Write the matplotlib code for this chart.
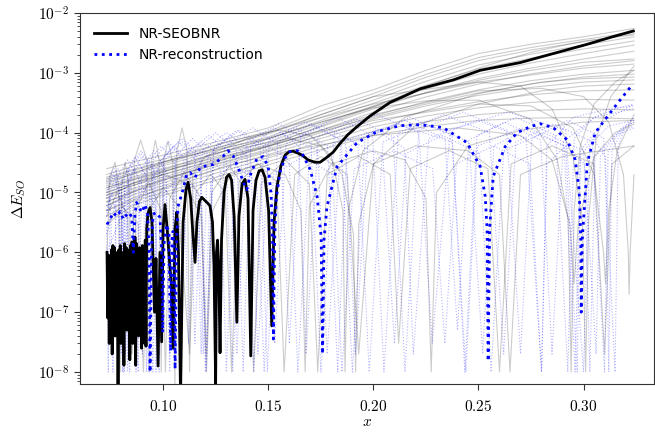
import numpy as np
import matplotlib
matplotlib.use("Agg")
import matplotlib.pyplot as plt
from matplotlib.ticker import FuncFormatter, LogLocator, FixedLocator, NullFormatter

plt.rcParams['mathtext.fontset'] = 'cm'
plt.rcParams['font.family'] = ['DejaVu Sans']

# ---------------- main curves ----------------
seob_x = [0.0732, 0.07355, 0.0739, 0.07425, 0.0746, 0.07495, 0.0753, 0.07565, 0.0760, 0.07635,
          0.0767, 0.07705, 0.0774, 0.07775, 0.0781, 0.07845, 0.0788, 0.07915, 0.0795, 0.07985,
          0.0802, 0.08055, 0.0809, 0.08125, 0.0816, 0.08195, 0.0823, 0.08265, 0.0830, 0.08335,
          0.0837, 0.08405, 0.0844, 0.08475, 0.0851, 0.08545, 0.0858, 0.08615, 0.0865, 0.08685,
          0.0872, 0.08755, 0.0879, 0.08825, 0.0886, 0.08895, 0.0893, 0.08965, 0.0900, 0.09035,
          0.0907, 0.09105, 0.0914, 0.09175, 0.0921, 0.0927, 0.0937,
          0.0946, 0.0958, 0.0965, 0.0975, 0.0984, 0.0992, 0.0999, 0.1008, 0.1018, 0.1037,
          0.1046, 0.1056, 0.1064, 0.1072, 0.1082, 0.1094, 0.1108, 0.1118, 0.1130, 0.1141,
          0.1151, 0.1160, 0.1172, 0.1183, 0.1194, 0.1208, 0.1222, 0.1234, 0.1241, 0.1249,
          0.1253, 0.1258, 0.1263, 0.1270, 0.1277, 0.1289, 0.1301, 0.1313, 0.1325, 0.1337,
          0.1350, 0.1360, 0.1375, 0.1389, 0.1403, 0.1416, 0.1427, 0.1441, 0.1456, 0.1470,
          0.1484, 0.1501, 0.1516, 0.1527, 0.1541, 0.1560, 0.1579, 0.1599, 0.1618, 0.1637,
          0.1661, 0.1689, 0.1722, 0.1746, 0.1775, 0.1808, 0.1841, 0.1879, 0.1922, 0.1984,
          0.2079, 0.2141, 0.2222, 0.2380, 0.2508, 0.2698, 0.2856, 0.3018, 0.3127, 0.3237]
seob_y = [1.0e-6, 8e-8, 9e-7, 3e-8, 7e-7, 2e-7, 1.1e-6, 2e-8, 1.3e-6, 6e-8,
          1.2e-6, 4e-8, 9e-7, 1.5e-7, 1.0e-6, 5e-9, 1.1e-6, 8e-8, 1.3e-6, 3e-8,
          9e-7, 1e-7, 1.0e-6, 1.3e-8, 1.4e-6, 1.2e-7, 1.2e-6, 5e-8, 1.0e-6, 2e-7,
          1.1e-6, 1.6e-8, 1.3e-6, 6e-8, 1.5e-6, 3e-8, 1.2e-6, 1.5e-7, 1.8e-6, 1.3e-8,
          1.4e-6, 9e-8, 9e-7, 4e-8, 1.2e-6, 1e-7, 1.1e-6, 2.5e-8, 1.3e-6, 7e-8,
          1.2e-6, 3e-8, 1.6e-6, 2.7e-8, 2.5e-6, 4.5e-6, 5.6e-6,
          3.2e-6, 1.0e-7, 7.9e-7, 1.26e-8, 1.0e-6, 3.2e-8, 2.5e-6, 6.3e-6, 2.5e-6, 3.2e-7,
          2.5e-8, 2.5e-6, 4.7e-6, 1.0e-6, 4.0e-9, 3.2e-6, 1.12e-5, 1.48e-5, 7.9e-6, 2.0e-6,
          6.8e-7, 3.2e-6, 7.1e-6, 8.3e-6, 7.6e-6, 6.8e-6, 6.0e-6, 3.2e-6, 6.3e-7, 6.3e-9,
          1.0e-6, 1.6e-6, 6.3e-7, 2.1e-8, 1.6e-6, 1.0e-5, 1.8e-5, 2.0e-5, 1.6e-5, 4.0e-6,
          6.8e-8, 4.0e-6, 1.4e-5, 1.66e-5, 7.9e-6, 1.86e-8, 5.0e-6, 1.6e-5, 2.3e-5, 2.4e-5,
          1.8e-5, 5.0e-6, 5.9e-8, 3.2e-6, 1.26e-5, 2.8e-5, 4.2e-5, 4.8e-5, 4.9e-5, 4.6e-5,
          4.2e-5, 3.5e-5, 3.2e-5, 3.2e-5, 3.8e-5, 4.7e-5, 6.6e-5, 9.3e-5, 1.26e-4, 1.9e-4,
          3.2e-4, 4.0e-4, 5.4e-4, 7.6e-4, 1.1e-3, 1.48e-3, 2.1e-3, 3.0e-3, 3.9e-3, 5.0e-3]

recon_x = [0.0732, 0.0738, 0.0746, 0.0762, 0.0778, 0.0794, 0.0810, 0.0833, 0.0850, 0.0857,
           0.0865, 0.0873, 0.0897, 0.0913, 0.0925, 0.0932, 0.0937, 0.0944, 0.0951, 0.0965,
           0.0984, 0.0992, 0.0997, 0.1003, 0.1016, 0.1027, 0.1035, 0.1041, 0.1046, 0.1051,
           0.1056, 0.1063, 0.1070, 0.1094, 0.1111, 0.1127, 0.1151, 0.1175, 0.1208, 0.1237,
           0.1280, 0.1308, 0.1332, 0.1356, 0.1380, 0.1397, 0.1413, 0.1446, 0.1475, 0.1499,
           0.1513, 0.1520, 0.1524, 0.1530, 0.1537, 0.1556, 0.1580, 0.1603, 0.1637, 0.1661,
           0.1699, 0.1732, 0.1751, 0.1758, 0.1765, 0.1779, 0.1827, 0.1922, 0.2017, 0.2126,
           0.2222, 0.2332, 0.2446, 0.2508, 0.2532, 0.2541, 0.2546, 0.2553, 0.2570, 0.2627,
           0.2684, 0.2746, 0.2794, 0.2856, 0.2922, 0.2960, 0.2979, 0.2987, 0.2989, 0.2994,
           0.3018, 0.3056, 0.3113, 0.3175, 0.3232]
recon_y = [2.93e-6, 3.16e-6, 3.55e-6, 4.64e-6, 3.98e-6, 4.82e-6, 3.55e-6, 4.64e-6, 3.98e-6, 1.0e-6,
           4.3e-6, 6.8e-6, 4.64e-6, 6.3e-6, 4.3e-6, 1.12e-6, 1.0e-8, 1.12e-6, 4.3e-6, 4.64e-6,
           3.83e-6, 1.12e-6, 4.6e-8, 1.36e-6, 2.93e-6, 2.0e-6, 2.24e-8, 1.65e-6, 2.24e-6, 1.36e-6,
           1.12e-8, 1.65e-6, 5.85e-6, 1.12e-5, 2.0e-5, 2.15e-5, 1.78e-5, 2.61e-5, 2.82e-5, 2.93e-5,
           3.83e-5, 5.0e-5, 4.14e-5, 2.61e-5, 1.52e-5, 1.12e-5, 1.92e-5, 3.69e-5, 3.98e-5, 2.71e-5,
           9.3e-6, 1.65e-6, 3.55e-8, 1.65e-6, 7.6e-6, 2.24e-5, 3.83e-5, 4.82e-5, 5.0e-5, 4.47e-5,
           2.42e-5, 8.6e-6, 1.85e-6, 2.0e-8, 1.65e-6, 5.85e-6, 2.71e-5, 6.8e-5, 1.04e-4, 1.31e-4,
           1.36e-4, 1.21e-4, 6.8e-5, 2.71e-5, 8.6e-6, 2.42e-6, 1.52e-8, 2.42e-6, 1.85e-5, 5.85e-5,
           1.0e-4, 1.26e-4, 1.41e-4, 1.21e-4, 7.6e-5, 3.55e-5, 1.12e-5, 1.65e-6, 1.0e-7, 1.65e-6,
           3.16e-5, 1.0e-4, 1.85e-4, 3.55e-4, 6.3e-4]

# ---------------- background: smooth grey fan ----------------
fan_x = [0.073, 0.085, 0.100, 0.125, 0.150, 0.175, 0.200, 0.225, 0.250, 0.275, 0.300, 0.324]
fan_grey = [
    [2.5e-5, 3.2e-5, 4.2e-5, 7.0e-5, 1.2e-4, 2.8e-4, 5.2e-4, 1.1e-3, 2.1e-3, 3.0e-3, 4.0e-3, 5.5e-3],
    [2.0e-5, 2.7e-5, 3.6e-5, 6.2e-5, 1.05e-4, 2.3e-4, 4.5e-4, 9.4e-4, 1.8e-3, 2.65e-3, 3.6e-3, 4.8e-3],
    [1.7e-5, 2.3e-5, 3.2e-5, 5.5e-5, 9.5e-5, 2.0e-4, 4.0e-4, 8.4e-4, 1.6e-3, 2.4e-3, 3.3e-3, 4.5e-3],
    [1.5e-5, 2.0e-5, 2.8e-5, 5.0e-5, 8.5e-5, 1.8e-4, 3.5e-4, 7.2e-4, 1.35e-3, 2.05e-3, 2.9e-3, 4.0e-3],
    [1.3e-5, 1.8e-5, 2.5e-5, 4.5e-5, 7.8e-5, 1.6e-4, 3.1e-4, 6.2e-4, 1.15e-3, 1.76e-3, 2.5e-3, 3.4e-3],
    [1.1e-5, 1.6e-5, 2.2e-5, 4.0e-5, 7.0e-5, 1.4e-4, 2.8e-4, 5.4e-4, 9.5e-4, 1.46e-3, 2.1e-3, 2.9e-3],
    [1.0e-5, 1.4e-5, 2.0e-5, 3.6e-5, 6.4e-5, 1.25e-4, 2.5e-4, 4.7e-4, 8.0e-4, 1.2e-3, 1.7e-3, 2.3e-3],
    [9.0e-6, 1.3e-5, 1.8e-5, 3.3e-5, 5.8e-5, 1.1e-4, 2.2e-4, 3.95e-4, 6.5e-4, 9.6e-4, 1.3e-3, 1.6e-3],
    [8.0e-6, 1.15e-5, 1.6e-5, 3.0e-5, 5.3e-5, 1.0e-4, 1.9e-4, 3.3e-4, 5.2e-4, 7.4e-4, 9.5e-4, 1.1e-3],
    [7.0e-6, 1.0e-5, 1.45e-5, 2.7e-5, 4.8e-5, 9.0e-5, 1.7e-4, 2.8e-4, 4.2e-4, 5.7e-4, 7.0e-4, 7.6e-4],
    [6.0e-6, 9.0e-6, 1.3e-5, 2.4e-5, 4.3e-5, 8.0e-5, 1.45e-4, 2.3e-4, 3.3e-4, 4.3e-4, 5.0e-4, 5.2e-4],
    [5.0e-6, 8.0e-6, 1.15e-5, 2.1e-5, 3.8e-5, 7.0e-5, 1.25e-4, 1.9e-4, 2.6e-4, 3.2e-4, 3.6e-4, 3.5e-4],
    [4.0e-6, 7.0e-6, 1.0e-5, 1.8e-5, 3.3e-5, 6.0e-5, 1.05e-4, 1.52e-4, 2.0e-4, 2.35e-4, 2.5e-4, 2.4e-4],
    [3.0e-6, 6.0e-6, 9.0e-6, 1.6e-5, 2.9e-5, 5.2e-5, 9.0e-5, 1.26e-4, 1.6e-4, 1.75e-4, 1.8e-4, 1.7e-4],
    [6.0e-6, 1.0e-5, 1.6e-5, 3.2e-5, 6.0e-5, 1.3e-4, 2.7e-4, 6.0e-4, 1.2e-3, 2.2e-3, 3.4e-3, 4.3e-3],
    [1.8e-5, 2.4e-5, 3.3e-5, 5.2e-5, 8.0e-5, 1.5e-4, 2.7e-4, 4.6e-4, 7.5e-4, 1.1e-3, 1.5e-3, 1.7e-3],
    [1.2e-5, 1.6e-5, 2.3e-5, 3.8e-5, 6.0e-5, 1.05e-4, 1.8e-4, 3.0e-4, 4.6e-4, 6.5e-4, 8.5e-4, 9.5e-4],
]

# ---------------- background: oscillating grey curves ----------------
osc_grey = [
    [(0.0732, 1e-6), (0.0745, 1.8e-5), (0.0770, 3.2e-5), (0.0788, 1.2e-5), (0.0795, 1e-8),
     (0.0802, 1.2e-5), (0.0818, 3.2e-5), (0.0838, 1.2e-5), (0.0850, 2e-8), (0.0862, 3.5e-5),
     (0.0892, 7.5e-5), (0.0922, 3.5e-5), (0.0935, 1e-8), (0.0945, 3.5e-5), (0.0962, 7.5e-5),
     (0.0980, 3.5e-5), (0.0990, 1e-8), (0.1000, 3.2e-5), (0.1022, 7.2e-5), (0.1045, 3.2e-5),
     (0.1055, 5e-9), (0.1065, 5e-5), (0.1089, 1.2e-4), (0.1113, 5e-5), (0.1125, 1e-8),
     (0.1140, 2e-5), (0.1200, 4e-5), (0.1400, 8e-5), (0.1700, 1.6e-4), (0.2000, 3e-4),
     (0.2500, 7e-4), (0.3000, 1.2e-3), (0.3240, 1.4e-3)],
    [(0.073, 1.2e-5), (0.085, 1.7e-5), (0.100, 2.4e-5), (0.125, 4.5e-5), (0.150, 8e-5),
     (0.175, 1.5e-4), (0.200, 2.6e-4), (0.225, 3.4e-4), (0.250, 3.5e-4), (0.2746, 1.7e-4),
     (0.2875, 3.5e-5), (0.2927, 3.5e-6), (0.2941, 1e-8), (0.2955, 5e-6), (0.2985, 6e-5),
     (0.305, 3e-4), (0.315, 7e-4), (0.324, 1.1e-3)],
    [(0.073, 1.6e-5), (0.100, 3e-5), (0.150, 1e-4), (0.200, 4e-4), (0.250, 7e-4),
     (0.270, 6e-4), (0.285, 2.5e-4), (0.295, 4e-5), (0.2995, 3e-6), (0.301, 1e-8),
     (0.3025, 4e-6), (0.306, 8e-5), (0.313, 4e-4), (0.324, 1.3e-3)],
    [(0.073, 9e-6), (0.100, 2e-5), (0.150, 6e-5), (0.200, 2e-4), (0.250, 5e-4),
     (0.280, 5.5e-4), (0.300, 4e-4), (0.312, 1.5e-4), (0.319, 2e-5), (0.3213, 1e-6),
     (0.3217, 2e-7), (0.3222, 1e-6), (0.324, 2e-5)],
    [(0.073, 7e-6), (0.100, 1.7e-5), (0.150, 5e-5), (0.200, 1.6e-4), (0.250, 3e-4),
     (0.275, 2.8e-4), (0.295, 1.2e-4), (0.305, 2e-5), (0.3095, 1e-6), (0.3105, 3e-7),
     (0.312, 5e-6), (0.316, 5e-5), (0.324, 2e-4)],
    [(0.073, 5e-6), (0.100, 1.2e-5), (0.130, 2.8e-5), (0.160, 5e-5), (0.200, 9e-5),
     (0.240, 1.2e-4), (0.270, 9e-5), (0.285, 3.5e-5), (0.2935, 3e-6), (0.2955, 3e-7),
     (0.2975, 3e-6), (0.305, 4e-5), (0.315, 1e-4), (0.324, 1.4e-4)],
    [(0.073, 3e-6), (0.080, 6e-6), (0.088, 3e-6), (0.0905, 1e-8), (0.093, 5e-6),
     (0.100, 1.2e-5), (0.107, 6e-6), (0.1125, 2e-8), (0.1155, 1e-5), (0.1225, 2e-5),
     (0.1295, 1e-5), (0.1325, 1e-8), (0.136, 1.5e-5), (0.145, 3e-5), (0.154, 1.5e-5),
     (0.1575, 1e-8), (0.1625, 2e-5), (0.175, 4e-5), (0.1875, 2e-5), (0.193, 2e-8),
     (0.200, 3e-5), (0.220, 6e-5), (0.245, 5e-5), (0.260, 2e-5), (0.265, 1e-8),
     (0.270, 2e-5), (0.290, 4e-5), (0.324, 6e-5)],
    [(0.073, 8e-6), (0.085, 1.4e-5), (0.100, 2e-5), (0.110, 1.5e-5), (0.118, 4e-6),
     (0.1205, 1e-8), (0.1235, 5e-6), (0.132, 2e-5), (0.145, 3e-5), (0.158, 2e-5),
     (0.1655, 5e-6), (0.1675, 1e-8), (0.1695, 6e-6), (0.180, 3e-5), (0.200, 5e-5),
     (0.215, 3.5e-5), (0.225, 8e-6), (0.2275, 1e-8), (0.230, 1e-5), (0.245, 6e-5),
     (0.270, 1.1e-4), (0.300, 1.5e-4), (0.324, 1.6e-4)],
    [(0.073, 4e-6), (0.078, 1e-5), (0.083, 4e-6), (0.085, 2e-8), (0.087, 5e-6),
     (0.093, 1.5e-5), (0.099, 5e-6), (0.101, 1e-8), (0.103, 8e-6), (0.110, 2.2e-5),
     (0.118, 8e-6), (0.1205, 2e-8), (0.123, 1e-5), (0.1315, 2.8e-5), (0.140, 1e-5),
     (0.143, 1e-8), (0.1465, 1.4e-5), (0.158, 3.5e-5), (0.1695, 1.4e-5), (0.1735, 1e-8),
     (0.178, 2e-5), (0.193, 4e-5), (0.208, 2e-5), (0.212, 3e-8), (0.2175, 2.5e-5),
     (0.236, 5e-5), (0.2545, 2.5e-5), (0.260, 1e-8), (0.2655, 3e-5), (0.285, 6e-5),
     (0.305, 3e-5), (0.310, 2e-8), (0.3135, 3e-5), (0.324, 6e-5)],
    [(0.073, 1e-5), (0.100, 2.2e-5), (0.130, 5e-5), (0.160, 8e-5), (0.175, 6e-5),
     (0.185, 2e-5), (0.1905, 2e-6), (0.1915, 1e-8), (0.193, 3e-6), (0.200, 3e-5),
     (0.220, 1.3e-4), (0.250, 3e-4), (0.280, 5e-4), (0.300, 6e-4), (0.324, 6.5e-4)],
    [(0.073, 1.4e-5), (0.100, 3.2e-5), (0.130, 7e-5), (0.155, 1.1e-4), (0.170, 9e-5),
     (0.180, 4e-5), (0.1855, 5e-6), (0.1865, 1e-8), (0.188, 5e-6), (0.195, 5e-5),
     (0.215, 1.8e-4), (0.250, 4.5e-4), (0.280, 7e-4), (0.300, 8e-4), (0.324, 8.5e-4)],
]

# ---------------- background: faint blue dotted reconstructions ----------------
osc_blue = [
    [(0.073, 5e-6), (0.0775, 1.5e-5), (0.0805, 7e-6), (0.082, 2e-8),
     (0.0836, 1.5e-5), (0.0885, 3e-5), (0.0934, 1.5e-5), (0.095, 1e-8),
     (0.0974, 3e-5), (0.105, 6e-5), (0.1126, 3e-5), (0.115, 3e-8),
     (0.1186, 5e-5), (0.130, 1e-4), (0.1414, 5e-5), (0.145, 2e-8),
     (0.1504, 7.5e-5), (0.1675, 1.5e-4), (0.1846, 7.5e-5), (0.190, 1e-8),
     (0.196, 8e-5), (0.215, 1.6e-4), (0.234, 8e-5), (0.240, 5e-8),
     (0.2454, 7.5e-5), (0.2625, 1.5e-4), (0.2796, 7.5e-5), (0.285, 2e-8),
     (0.2904, 7e-5), (0.305, 1.8e-4), (0.324, 2.5e-4)],
    [(0.073, 6e-6), (0.0755, 1e-5), (0.0772, 5e-6), (0.078, 3e-8),
     (0.0792, 1.2e-5), (0.083, 2.5e-5), (0.0868, 1.2e-5), (0.088, 1e-8),
     (0.0898, 2.5e-5), (0.0955, 5e-5), (0.1012, 2.5e-5), (0.103, 2e-8),
     (0.1056, 4e-5), (0.114, 8e-5), (0.1224, 4e-5), (0.125, 1e-8),
     (0.1292, 6e-5), (0.1425, 1.2e-4), (0.1558, 6e-5), (0.160, 3e-8),
     (0.1654, 9e-5), (0.1825, 1.8e-4), (0.1996, 9e-5), (0.205, 1e-8),
     (0.2118, 1e-4), (0.2335, 2e-4), (0.2552, 1e-4), (0.262, 2e-8),
     (0.2678, 7e-5), (0.286, 1.4e-4), (0.3042, 7e-5), (0.310, 1e-8),
     (0.3117, 5e-5), (0.318, 1.2e-4), (0.324, 1.5e-4)],
    [(0.073, 4e-6), (0.0745, 8e-6), (0.0752, 3e-6), (0.076, 1e-8),
     (0.0777, 1.7e-5), (0.083, 3.5e-5), (0.0883, 1.7e-5), (0.090, 2e-8),
     (0.0922, 3e-5), (0.099, 6e-5), (0.1058, 3e-5), (0.108, 1e-8),
     (0.1112, 4.5e-5), (0.1215, 9e-5), (0.1318, 4.5e-5), (0.135, 2e-8),
     (0.1398, 7e-5), (0.155, 1.4e-4), (0.1702, 7e-5), (0.175, 1e-8),
     (0.1814, 1e-4), (0.2015, 2e-4), (0.2216, 1e-4), (0.228, 3e-8),
     (0.2366, 1.1e-4), (0.264, 2.2e-4), (0.2914, 1.1e-4), (0.300, 1e-8),
     (0.303, 6e-5), (0.312, 1.3e-4), (0.324, 1.6e-4)],
    [(0.073, 1e-5), (0.0765, 2e-5), (0.0788, 1e-5), (0.080, 2e-8),
     (0.0816, 2e-5), (0.0865, 4e-5), (0.0914, 2e-5), (0.093, 1e-8),
     (0.0953, 3.5e-5), (0.1025, 7e-5), (0.1097, 3.5e-5), (0.112, 3e-8),
     (0.1151, 5e-5), (0.125, 1e-4), (0.1349, 5e-5), (0.138, 1e-8),
     (0.1416, 6e-5), (0.153, 1.2e-4), (0.1644, 6e-5), (0.168, 2e-8),
     (0.1736, 8.5e-5), (0.1915, 1.7e-4), (0.2094, 8.5e-5), (0.215, 1e-8),
     (0.2216, 1.1e-4), (0.2425, 2.2e-4), (0.2634, 1.1e-4), (0.270, 2e-8),
     (0.2754, 8e-5), (0.2925, 1.6e-4), (0.3096, 8e-5), (0.315, 1e-8),
     (0.3165, 6e-5), (0.320, 1.3e-4), (0.324, 1.8e-4)],
    [(0.073, 3e-6), (0.0738, 1e-8),
     (0.0747, 1e-5), (0.0774, 2e-5), (0.0801, 1e-5), (0.081, 1e-8),
     (0.083, 2.2e-5), (0.0895, 4.5e-5), (0.096, 2.2e-5), (0.098, 2e-8),
     (0.1006, 3.5e-5), (0.109, 7e-5), (0.1174, 3.5e-5), (0.120, 1e-8),
     (0.124, 5.5e-5), (0.1365, 1.1e-4), (0.149, 5.5e-5), (0.153, 3e-8),
     (0.1584, 6.5e-5), (0.1755, 1.3e-4), (0.1926, 6.5e-5), (0.198, 1e-8),
     (0.2045, 7e-5), (0.225, 1.4e-4), (0.2455, 7e-5), (0.252, 2e-8),
     (0.2573, 6e-5), (0.274, 1.2e-4), (0.2907, 6e-5), (0.296, 1e-8),
     (0.2985, 5e-5), (0.310, 1.6e-4), (0.324, 3e-4)],
    [(0.073, 2e-6), (0.077, 6e-6), (0.0795, 3e-6), (0.0805, 1e-8),
     (0.0818, 1.2e-5), (0.0862, 2.5e-5), (0.0906, 1.2e-5), (0.092, 1e-8),
     (0.0937, 1.5e-5), (0.099, 3e-5), (0.1043, 1.5e-5), (0.106, 2e-8),
     (0.1089, 2.5e-5), (0.118, 5e-5), (0.1271, 2.5e-5), (0.130, 1e-8),
     (0.1341, 3.5e-5), (0.147, 7e-5), (0.1599, 3.5e-5), (0.164, 1e-8),
     (0.1695, 4e-5), (0.187, 8e-5), (0.2045, 4e-5), (0.210, 3e-8),
     (0.2155, 4.5e-5), (0.233, 9e-5), (0.2505, 4.5e-5), (0.256, 1e-8),
     (0.262, 5e-5), (0.281, 1e-4), (0.300, 5e-5), (0.306, 2e-8),
     (0.308, 4e-5), (0.316, 1e-4), (0.324, 1.3e-4)],
    [(0.073, 8e-6), (0.0755, 2e-5), (0.0785, 2.5e-5), (0.0815, 1.2e-5), (0.083, 1e-8),
     (0.0846, 2e-5), (0.08975, 4e-5), (0.0949, 2e-5), (0.0965, 1e-8),
     (0.0991, 3.5e-5), (0.10725, 7e-5), (0.1154, 3.5e-5), (0.118, 2e-8),
     (0.121, 4e-5), (0.1305, 8e-5), (0.140, 4e-5), (0.143, 1e-8),
     (0.1478, 6e-5), (0.163, 1.2e-4), (0.1782, 6e-5), (0.183, 1e-8),
     (0.1873, 5.5e-5), (0.201, 1.1e-4), (0.2147, 5.5e-5), (0.219, 2e-8),
     (0.2263, 8e-5), (0.2495, 1.6e-4), (0.2727, 8e-5), (0.280, 1e-8),
     (0.2825, 6e-5), (0.295, 1.8e-4), (0.310, 2.4e-4), (0.324, 2.8e-4)],
    [(0.073, 5e-6), (0.085, 1.2e-5), (0.087, 1e-8),
     (0.0885, 1.5e-5), (0.095, 3e-5), (0.1015, 1.5e-5), (0.103, 1e-8),
     (0.106, 3.5e-5), (0.118, 7e-5), (0.130, 3.5e-5), (0.133, 1e-8),
     (0.1375, 5e-5), (0.1555, 1e-4), (0.1735, 5e-5), (0.178, 2e-8),
     (0.1845, 7e-5), (0.211, 1.4e-4), (0.2375, 7e-5), (0.244, 1e-8),
     (0.2495, 6e-5), (0.2705, 1.2e-4), (0.2915, 6e-5), (0.297, 1e-8),
     (0.2985, 4e-5), (0.3045, 8e-5), (0.3105, 4e-5), (0.312, 1e-8),
     (0.3135, 5e-5), (0.319, 1.2e-4), (0.324, 1.5e-4)],
    [(0.073, 1e-6), (0.080, 4e-6), (0.084, 1e-8),
     (0.086, 6e-6), (0.091, 1.2e-5), (0.096, 6e-6), (0.098, 1e-8),
     (0.1005, 1e-5), (0.1085, 2e-5), (0.1165, 1e-5), (0.119, 2e-8),
     (0.1226, 1.5e-5), (0.1335, 3e-5), (0.1444, 1.5e-5), (0.148, 1e-8),
     (0.1524, 2e-5), (0.1665, 4e-5), (0.1806, 2e-5), (0.185, 1e-8),
     (0.1908, 2.5e-5), (0.2095, 5e-5), (0.2282, 2.5e-5), (0.234, 3e-8),
     (0.2395, 3e-5), (0.257, 6e-5), (0.2745, 3e-5), (0.280, 1e-8),
     (0.2826, 3e-5), (0.2915, 6e-5), (0.3004, 3e-5), (0.303, 1e-8),
     (0.3055, 4e-5), (0.315, 9e-5), (0.324, 1.2e-4)],
    [(0.073, 1.5e-5), (0.0765, 2.5e-5), (0.080, 1.5e-5), (0.0815, 1e-8),
     (0.0834, 2.5e-5), (0.0895, 5e-5), (0.0956, 2.5e-5), (0.0975, 2e-8),
     (0.1002, 4e-5), (0.109, 8e-5), (0.1178, 4e-5), (0.1205, 1e-8),
     (0.1239, 5.5e-5), (0.135, 1.1e-4), (0.1461, 5.5e-5), (0.1495, 1e-8),
     (0.1544, 7e-5), (0.1705, 1.4e-4), (0.1866, 7e-5), (0.1915, 2e-8),
     (0.1976, 9e-5), (0.2175, 1.8e-4), (0.2374, 9e-5), (0.2435, 1e-8),
     (0.2493, 9e-5), (0.268, 1.8e-4), (0.2867, 9e-5), (0.2925, 1e-8),
     (0.2955, 8e-5), (0.305, 1.8e-4), (0.315, 2.5e-4), (0.324, 3e-4)],
]

y_decades = [1e-8, 1e-7, 1e-6, 1e-5, 1e-4, 1e-3, 1e-2]
x_ticks = [0.10, 0.15, 0.20, 0.25, 0.30]

# ---------------- plotting ----------------
fig = plt.figure(figsize=(6.55, 4.32), dpi=100)
ax = fig.add_axes([0.122, 0.111, 0.877, 0.859])

for ys in fan_grey:
    ax.plot(fan_x, ys, color='k', alpha=0.2, lw=0.8, zorder=1)
for pts in osc_grey:
    xs, ys = zip(*pts)
    ax.plot(xs, ys, color='k', alpha=0.2, lw=0.8, zorder=1)
for pts in osc_blue:
    xs, ys = zip(*pts)
    ax.plot(xs, ys, color='b', alpha=0.3, lw=0.8, ls=':', zorder=1)

ax.plot(seob_x, seob_y, color='k', lw=2.0, label='NR-SEOBNR', zorder=3)
ax.plot(recon_x, recon_y, color='b', lw=2.0, ls=':', label='NR-reconstruction', zorder=4)

ax.set_yscale('log')
ax.set_xlim(0.0603, 0.3337)
ax.set_ylim(6.3e-9, 1e-2)

ax.yaxis.set_major_locator(FixedLocator(y_decades))
ax.yaxis.set_minor_locator(LogLocator(base=10, subs=np.arange(2, 10), numticks=20))
ax.yaxis.set_minor_formatter(NullFormatter())
ax.yaxis.set_major_formatter(FuncFormatter(lambda v, p: r'$10^{%d}$' % int(round(np.log10(v)))))
ax.xaxis.set_major_locator(FixedLocator(x_ticks))
ax.xaxis.set_major_formatter(FuncFormatter(lambda v, p: r'$%.2f$' % v))

ax.tick_params(axis='both', which='major', direction='out', length=4, width=0.8,
               labelsize=11, color='#333333')
ax.tick_params(axis='x', which='major', pad=7)
ax.tick_params(axis='y', which='minor', direction='out', length=2, width=0.6, color='#333333')
for s in ax.spines.values():
    s.set_color('#333333')
    s.set_linewidth(0.8)

ax.set_xlabel(r'$x$', fontsize=11, labelpad=0)
ax.set_ylabel(r'$\Delta E_{SO}$', fontsize=11, labelpad=7)

leg = ax.legend(loc='upper left', frameon=False, fontsize=10, handlelength=2.4,
                borderaxespad=0.6)

fig.savefig('out.png', dpi=100)
